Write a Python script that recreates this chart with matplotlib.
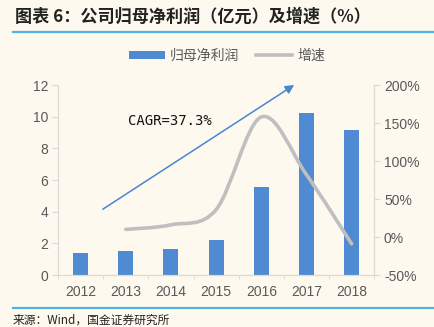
import numpy as np
import matplotlib
matplotlib.use("Agg")
import matplotlib.pyplot as plt
from matplotlib.path import Path
from matplotlib.patches import PathPatch, Patch
from matplotlib.lines import Line2D

plt.rcParams['font.family'] = ['Noto Sans CJK SC', 'DejaVu Sans']

# data
years = ['2012', '2013', '2014', '2015', '2016', '2017', '2018']
profit = [1.37, 1.52, 1.66, 2.19, 5.56, 10.21, 9.14]   # 亿元
growth = [None, 10, 16, 36, 158, 82, -9]               # %
left_ticks = [0, 2, 4, 6, 8, 10, 12]
right_ticks = [-50, 0, 50, 100, 150, 200]

bg = '#FDF9EF'
bar_color = '#4F8AD3'
line_color = '#BFBFBF'
tick_color = '#595959'
rule_color = '#4FB3E3'

fig = plt.figure(figsize=(4.35, 3.27), dpi=100, facecolor=bg)
ax = fig.add_axes([0.1333, 0.159, 0.727, 0.581])
ax.set_facecolor(bg)
ax2 = ax.twinx()

x = np.arange(len(years))
ax.bar(x, profit, width=0.33, color=bar_color, zorder=2)
ax.set_xlim(-0.5, len(years) - 0.5)
ax.set_ylim(0, 12)
ax.set_yticks(left_ticks)
ax.set_xticks(x)
ax.set_xticklabels(years)
ax.set_xticks(np.arange(len(years) + 1) - 0.5, minor=True)
ax.tick_params(axis='x', which='major', length=0, pad=7)
ax.tick_params(axis='x', which='minor', length=3, color='#D9D9D9')

ax2.set_ylim(-50, 200)
ax2.set_yticks(right_ticks)
ax2.set_yticklabels([f'{v}%' for v in right_ticks])

for a in (ax, ax2):
    a.tick_params(axis='y', length=4, color='#D9D9D9', labelcolor=tick_color, labelsize=10, pad=3)
    a.tick_params(axis='x', labelcolor=tick_color, labelsize=10)
    for s in a.spines.values():
        s.set_color('#D9D9D9')
        s.set_linewidth(0.8)
    a.spines['top'].set_visible(False)
for lbl in ax.get_xticklabels() + ax.get_yticklabels() + ax2.get_yticklabels():
    lbl.set_fontfamily('Liberation Sans')

# smoothed growth line (bezier through the data points, Excel style)
gx = [xi for xi, g in zip(x, growth) if g is not None]
gy = [g for g in growth if g is not None]
pts = np.column_stack([gx, gy]).astype(float)
verts = [pts[0]]
codes = [Path.MOVETO]
n = len(pts)
for i in range(n - 1):
    p0 = pts[max(i - 1, 0)]
    p1 = pts[i]
    p2 = pts[i + 1]
    p3 = pts[min(i + 2, n - 1)]
    verts += [p1 + (p2 - p0) / 6, p2 - (p3 - p1) / 6, p2]
    codes += [Path.CURVE4] * 3
ax2.add_patch(PathPatch(Path(verts, codes), facecolor='none', edgecolor=line_color,
                        lw=2.6, capstyle='round', zorder=3))

# CAGR arrow and label
ax.annotate('', xy=(4.78, 12.1), xytext=(0.44, 4.06),
            arrowprops=dict(arrowstyle='-|>', color='#4A85D0', lw=1.1, mutation_scale=13),
            annotation_clip=False, zorder=4)
ax.text(1.05, 9.7, 'CAGR=37.3%', fontsize=10, family='DejaVu Sans Mono',
        color='#111111', va='center', ha='left')

# legend
handles = [Patch(facecolor=bar_color, edgecolor='none'),
           Line2D([], [], color=line_color, lw=2.6)]
fig.legend(handles, ['归母净利润', '增速'], loc='center', bbox_to_anchor=(0.522, 0.829),
           ncol=2, frameon=False, fontsize=10, handlelength=2.6, handleheight=0.5,
           columnspacing=1.2, handletextpad=0.4, labelcolor=tick_color)

# title, rules and source
fig.text(0.035, 0.948, '图表 6：公司归母净利润（亿元）及增速（%）', fontsize=12.3,
         fontweight='bold', style='italic', color='#222222', va='center', ha='left')
fig.add_artist(Line2D([0.03, 1.0], [0.902, 0.902], color=rule_color, lw=1.6))
fig.add_artist(Line2D([0.03, 1.0], [0.057, 0.057], color=rule_color, lw=1.6))
fig.text(0.03, 0.022, '来源：Wind，国金证券研究所', fontsize=8.5, color='#222222',
         va='center', ha='left')

fig.savefig('out.png', dpi=100, facecolor=bg)
